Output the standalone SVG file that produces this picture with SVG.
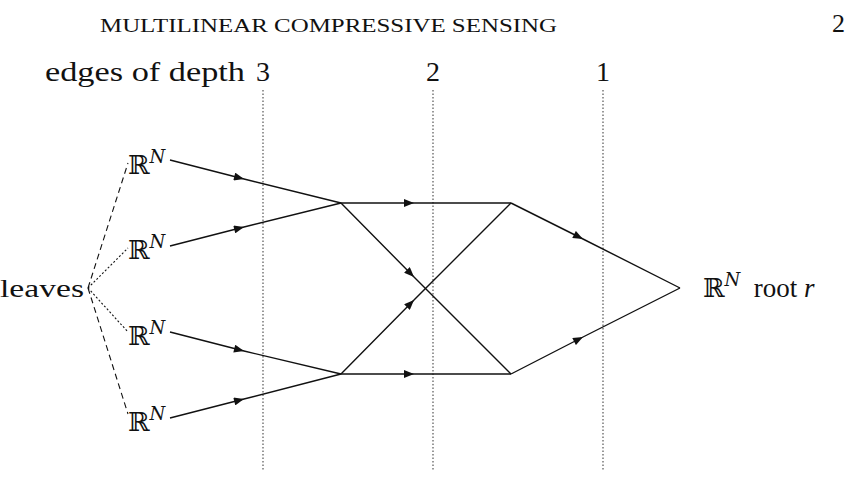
<svg xmlns="http://www.w3.org/2000/svg" width="847" height="491" viewBox="0 0 847 491">
<style>
text{font-family:"Liberation Serif","DejaVu Serif",serif;fill:#111}
.e{fill:none;stroke:#111;stroke-width:1.4;marker-mid:url(#a)}
.d{stroke:#555;stroke-width:1.2;stroke-dasharray:1.5 2}
.l{stroke:#111;stroke-width:1.1;stroke-dasharray:6 4}
.s{stroke:#111;stroke-width:1.1;stroke-dasharray:2 2}
.r{font-family:"DejaVu Serif",serif;font-size:26px}
.n{font-style:italic;font-size:18px}
</style>
<defs><marker id="a" viewBox="0 0 10 8" refX="10" refY="4" markerWidth="11" markerHeight="8" markerUnits="userSpaceOnUse" orient="auto"><path d="M0,0L10,4L0,8z" fill="#111"/></marker></defs>
<text x="100" y="32" font-size="19" textLength="457" lengthAdjust="spacingAndGlyphs">MULTILINEAR COMPRESSIVE SENSING</text>
<text x="832" y="32" font-size="26">2</text>
<text x="45" y="81" font-size="28" textLength="200" lengthAdjust="spacingAndGlyphs">edges of depth</text>
<text x="256" y="81" font-size="28">3</text>
<text x="426" y="81" font-size="28">2</text>
<text x="596" y="81" font-size="28">1</text>
<g id="depth-lines"><line class="d" x1="263" y1="90" x2="263" y2="470"/><line class="d" x1="433" y1="90" x2="433" y2="470"/><line class="d" x1="603" y1="90" x2="603" y2="470"/></g>
<g id="leaves"><text x="0" y="297" font-size="26" textLength="84" lengthAdjust="spacingAndGlyphs">leaves</text>
<line class="l" x1="88" y1="288" x2="128" y2="163"/><line class="s" x1="88" y1="288" x2="128" y2="248"/><line class="s" x1="88" y1="288" x2="128" y2="332"/><line class="l" x1="88" y1="288" x2="128" y2="414"/></g>
<g id="leaf1"><text class="r" x="128" y="174">ℝ<tspan class="n" dy="-11">N</tspan></text></g>
<g id="leaf2"><text class="r" x="128" y="259">ℝ<tspan class="n" dy="-11">N</tspan></text></g>
<g id="leaf3"><text class="r" x="128" y="345">ℝ<tspan class="n" dy="-11">N</tspan></text></g>
<g id="leaf4"><text class="r" x="128" y="431">ℝ<tspan class="n" dy="-11">N</tspan></text></g>
<g id="root"><text class="r" x="703" y="297">ℝ<tspan class="n" dy="-11">N</tspan><tspan dy="11" font-family="Liberation Serif" font-size="27" xml:space="preserve">  root </tspan><tspan font-family="Liberation Serif" font-style="italic" font-size="27">r</tspan></text></g>
<g id="connectors">
<path class="e" d="M170,160L244,179L341,203"/>
<path class="e" d="M170,246L244,227L341,203"/>
<path class="e" d="M170,332L244,351L341,374"/>
<path class="e" d="M170,418L244,399L341,374"/>
<path class="e" d="M341,203L414,203L511,203"/>
<path class="e" d="M341,374L414,374L511,374"/>
<path class="e" d="M341,203L414,277L511,374"/>
<path class="e" d="M341,374L414,300L511,203"/>
<path class="e" d="M511,203L583,239L680,288"/>
<path class="e" d="M511,374L583,337L680,288"/>
</g>
</svg>
